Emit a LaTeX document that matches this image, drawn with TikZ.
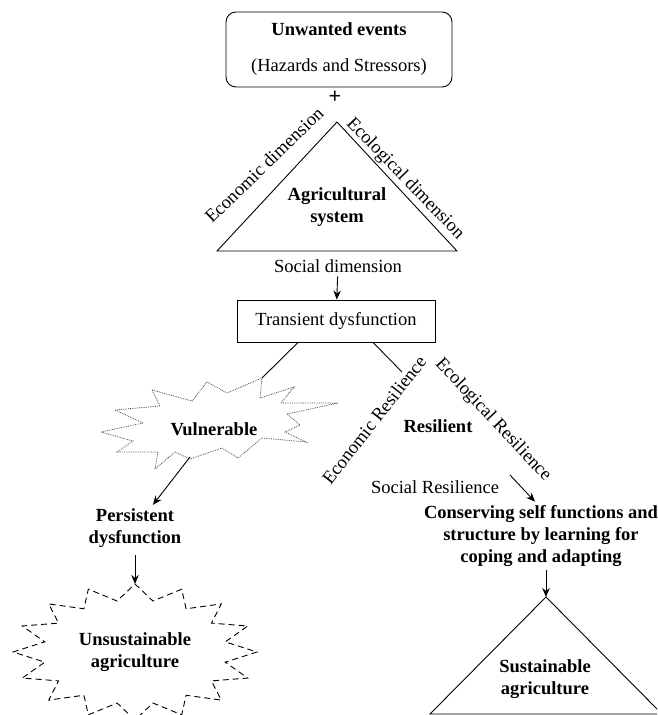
\documentclass[tikz,border=0pt]{standalone}
\usepackage{fontspec}
\setmainfont{Liberation Serif}
\usetikzlibrary{arrows.meta, positioning, shapes.geometric}

\begin{document}
\begin{tikzpicture}[x=1pt, y=-1pt, line width=0.9pt,
        font=\fontsize{18.5}{22}\selectfont,
        >={Stealth[length=9pt, width=7.5pt]},
        box/.style={draw, align=center},
        title/.style={font=\fontsize{18.5}{22}\selectfont\bfseries, align=center}]
        \useasboundingbox (0,0) rectangle (657,715);
        \clip (0,0) rectangle (657,715);

        % 绘制不希望发生的事件
        \node[box, rounded corners=10pt, minimum width=226pt, minimum height=75pt] (evt) at (339,49.5)
            {\textbf{Unwanted events}\\[14pt](Hazards and Stressors)};
        \node[title, font=\fontsize{22}{24}\selectfont\bfseries] (plus) at (335,97) {+};

        % 绘制农业系统(三角形)
        \draw (217,251) -- (337,122) -- (457,251) -- cycle;
        \node[title] (agri) at (337,207) {Agricultural\\system};
        \node[rotate=44] (econ) at (264,165) {Economic dimension};
        \node[rotate=-46] (ecol) at (405,179) {Ecological dimension};
        \node (soc) at (338,266) {Social dimension};

        % 绘制暂时性失调
        \node[box, minimum width=198pt, minimum height=42pt] (trans) at (336,321) {Transient dysfunction};
        \draw[->] (soc) -- (trans);

        % 绘制脆弱(点线星形)
        \draw[densely dotted, black!70, line width=0.8pt] (152,390) -- (192,401) -- (207,382) -- (227,393)
            -- (262,378) -- (260,398) -- (294,387) -- (281,403) -- (338,403) -- (287,414)
            -- (300,425) -- (285,432) -- (306,442) -- (262,438) -- (238,458) -- (222,448)
            -- (190,459) -- (175,452) -- (155,469) -- (158,452) -- (117,452) -- (133,441)
            -- (101,432) -- (143,423) -- (115,410) -- (160,406) -- cycle;
        \coordinate (vultop) at (262,378);
        \coordinate (vulbot) at (190,457);
        \node[title] (vul) at (214,429) {Vulnerable};
        \draw ([xshift=-38pt]trans.south) -- (vultop);

        % 绘制持续性失调
        \node[title] (pers) at (135,528) {Persistent\\dysfunction};
        \draw[->] (vulbot) -- (pers);

        % 绘制不可持续农业(虚线星形)
        \draw[dash pattern=on 6pt off 4pt] (135,584)
            \foreach \i in {1,...,31} { -- ([shift={(135,652)}]{270+\i*11.25}:{122-30*mod(\i,2)} and {68-16*mod(\i,2)}) } -- cycle;
        \coordinate (unstop) at (135,584);
        \node[title] (unsus) at (135,652) {Unsustainable\\agriculture};
        \draw[->, shorten <=4pt] (pers) -- (unstop);

        % 绘制韧性
        \coordinate (resapex) at (402,372);
        \draw ([xshift=37pt]trans.south) -- (resapex);
        \node[rotate=52] (ecores) at (374,420) {Economic Resilience};
        \node[rotate=-47] (ecolres) at (493,420) {Ecological Resilience};
        \node[title] (res) at (438,426) {Resilient};
        \node (socres) at (435,487) {Social Resilience};
        \coordinate (srarr) at (510,475);

        % 绘制自我保持功能
        \node[title] (cons) at (541,536) {Conserving self functions and\\structure by learning for\\coping and adapting};
        \draw[->] (srarr) -- ([xshift=-6pt]cons.north);

        % 绘制可持续农业(三角形)
        \coordinate (susapex) at (546,597);
        \draw[->] (cons.south -| susapex) -- (susapex);
        \draw (430,714) -- (susapex) -- (662,714) -- cycle;
        \node[title] (sus) at (545,679) {Sustainable\\agriculture};
    \end{tikzpicture}
\end{document}
